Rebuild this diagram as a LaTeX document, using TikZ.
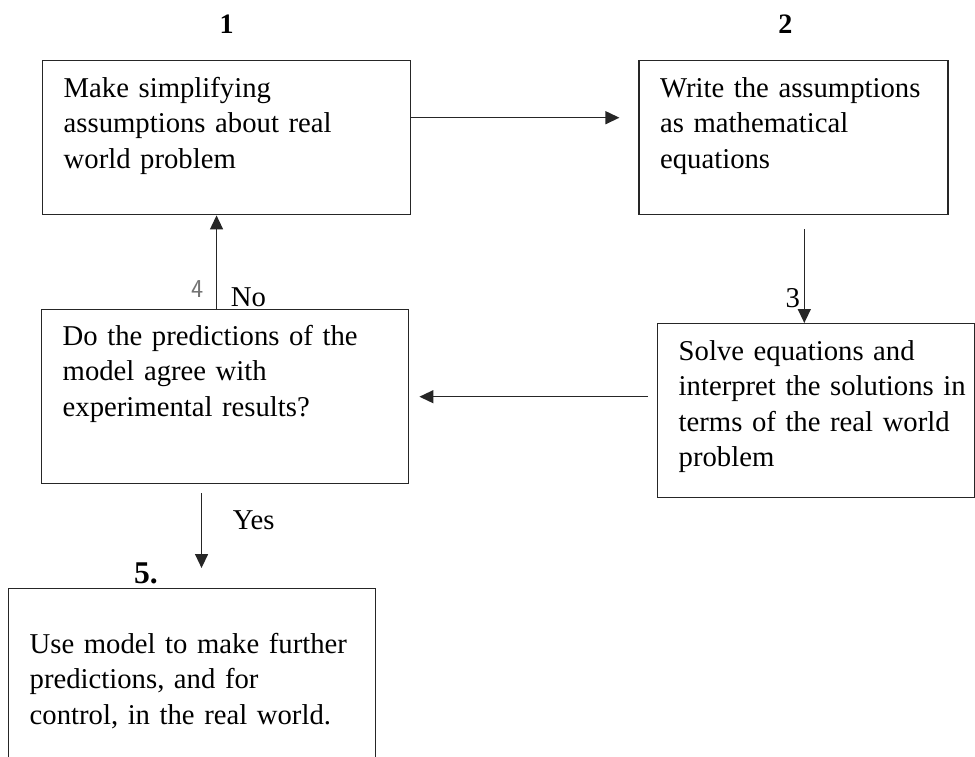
\documentclass[tikz,border=0pt]{standalone}
\usepackage{fontspec}
\setmainfont{Liberation Serif}
\usetikzlibrary{arrows.meta, positioning}

\begin{document}
\begin{tikzpicture}[x=0.03cm, y=-0.03cm,
            stage/.style={draw=black!85, line width=1.2pt, anchor=north west, align=left,
              inner xsep=0.63cm, inner ysep=0pt, text height=1.11cm,
              font=\fontsize{24.5}{30}\selectfont},
            stage label/.style={font=\fontsize{24}{26}\selectfont\bfseries, inner sep=0pt, text depth=0pt},
            branch label/.style={font=\fontsize{24.5}{30}\selectfont, inner sep=0pt},
            flow/.style={draw=black!85, line width=1.2pt, -{Triangle[length=0.42cm, width=0.39cm]}}]

            \useasboundingbox (0,0) rectangle (975,757);
            \clip (0,0) rectangle (975,757);

            % Modelling stages
            \node[stage, text width=9.78cm, text depth=3.51cm] (m1) at (42,60)
              {Make simplifying\\assumptions about real\\world problem};
            \node[stage, text width=8.01cm, text depth=3.51cm, right=6.81cm of m1] (m2)
              {Write the assumptions\\as mathematical\\equations};
            \node[stage, text width=8.25cm, text depth=4.11cm] (m3) at (657,323)
              {Solve equations and\\\mbox{interpret the solutions in}\\\mbox{terms of the real world}\\problem};
            \node[stage, text width=9.75cm, text height=1.08cm, text depth=4.14cm] (m4) at (41,309)
              {Do the predictions of the\\model agree with\\experimental results?};
            \node[stage, text width=9.75cm, text height=1.95cm, text depth=4.11cm] (m5) at (8,588)
              {Use model to make further\\predictions, and for\\control, in the real world.};

            % Stage numbers
            \node[stage label, above=0.8cm of m1] (n1) {1};
            \node[stage label, above=0.8cm of m2, xshift=-0.25cm] (n2) {2};
            \node[stage label, font=\fontsize{27}{30}\selectfont\bfseries, anchor=base] (n5)
              at ([xshift=4.14cm, yshift=0.15cm]m5.north west) {5.};

            % Arrow ends
            \coordinate (a3s) at ([xshift=0.32cm, yshift=-0.42cm]m2.south);
            \coordinate (a3) at (a3s |- m3.north);
            \coordinate (a4) at (m3.west |- m4.east);
            \coordinate (a1s) at ([xshift=-0.26cm]m4.north);
            \coordinate (a1) at (a1s |- m1.south);
            \coordinate (a5s) at ([xshift=-0.71cm, yshift=-0.27cm]m4.south);
            \coordinate (a5) at (a5s |- m5.north);

            % Flow between stages
            \draw[flow] ([yshift=0.6cm]m1.east) -- ([xshift=-0.57cm, yshift=0.6cm]m2.west);
            \draw[flow] (a3s) -- (a3);
            \draw[flow] ([xshift=-0.27cm]a4) -- ([xshift=0.3cm]m4.east);
            \draw[flow] (a1s) -- (a1);
            \draw[flow] (a5s) -- ([yshift=0.6cm]a5);

            % Branch labels
            \node[branch label, anchor=base east] (n3) at ([xshift=-0.12cm, yshift=0.48cm]a3) {3};
            \node[branch label, anchor=base west] (no) at ([xshift=0.42cm, yshift=0.09cm]a1s) {No};
            \node[branch label, anchor=base east, font=\fontsize{22}{24}\selectfont\sffamily, text=black!55] (n4)
              at ([xshift=-0.39cm, yshift=0.36cm]a1s) {4};
            \node[branch label, anchor=base west] (yes) at ([xshift=0.93cm, yshift=-1.08cm]a5s) {Yes};
        \end{tikzpicture}
\end{document}
